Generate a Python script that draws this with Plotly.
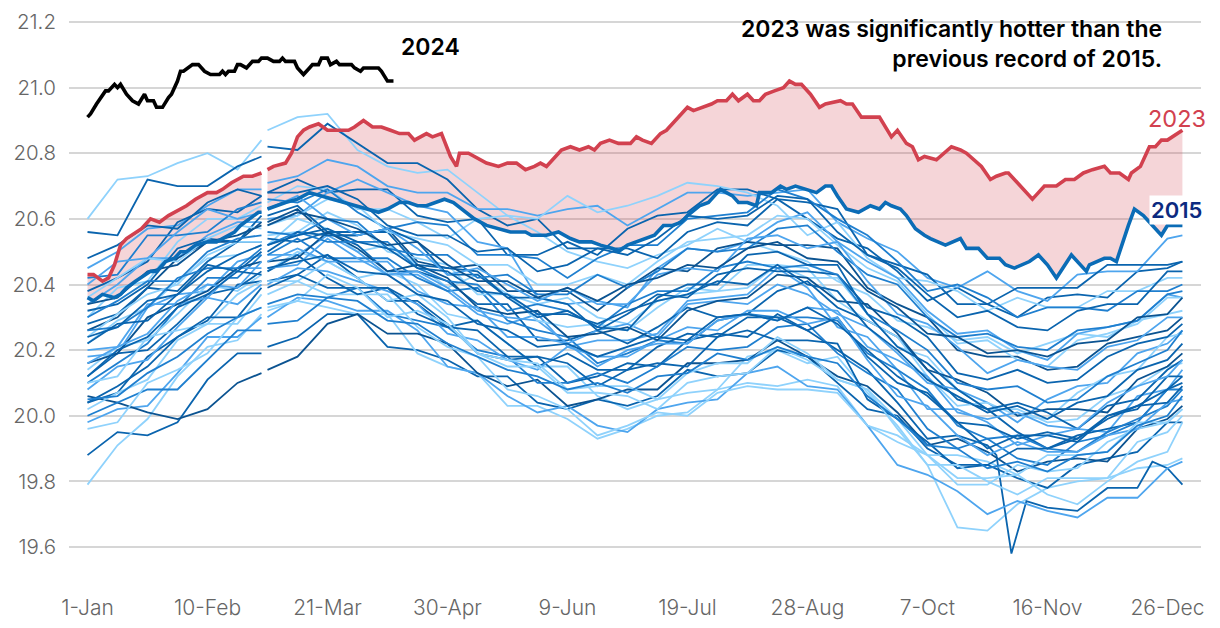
import plotly.graph_objects as go

# ---------------- data ----------------
GRID_DAYS = [0, 10, 20, 30, 40, 50, 58, 60, 70, 80, 90, 100, 110, 120, 130, 140, 150, 160,
             170, 180, 190, 200, 210, 220, 230, 240, 250, 260, 270, 280, 290, 300, 310,
             320, 330, 340, 350, 360, 365]
LEAP_DAY = 59  # Feb 29 position, empty for non-leap years

TICK_DAYS = [0, 40, 80, 120, 160, 200, 240, 280, 320, 360]
TICK_LABELS = ["1-Jan", "10-Feb", "21-Mar", "30-Apr", "9-Jun", "19-Jul", "28-Aug",
               "7-Oct", "16-Nov", "26-Dec"]
Y_TICKS = [19.6, 19.8, 20.0, 20.2, 20.4, 20.6, 20.8, 21.0, 21.2]

s01 = [20.60, 20.72, 20.73, 20.77, 20.80, 20.75, 20.84, 20.87, 20.91, 20.92, 20.81, 20.76, 20.74, 20.75, 20.68, 20.61, 20.56, 20.50, 20.47, 20.45, 20.49, 20.52, 20.57, 20.53, 20.50, 20.47, 20.41, 20.37, 20.29, 20.27, 20.23, 20.24, 20.19, 20.22, 20.25, 20.24, 20.29, 20.31, 20.32]
s02 = [20.56, 20.55, 20.72, 20.70, 20.70, 20.76, 20.79, 20.82, 20.81, 20.89, 20.83, 20.77, 20.77, 20.72, 20.63, 20.58, 20.60, 20.51, 20.51, 20.51, 20.48, 20.56, 20.59, 20.58, 20.66, 20.60, 20.54, 20.51, 20.44, 20.35, 20.39, 20.34, 20.30, 20.36, 20.37, 20.36, 20.44, 20.45, 20.47]
s03 = [20.45, 20.50, 20.57, 20.58, 20.64, 20.69, 20.69, 20.71, 20.73, 20.78, 20.76, 20.70, 20.68, 20.68, 20.63, 20.63, 20.61, 20.63, 20.64, 20.58, 20.63, 20.68, 20.68, 20.67, 20.68, 20.69, 20.59, 20.54, 20.50, 20.42, 20.39, 20.44, 20.38, 20.35, 20.43, 20.44, 20.44, 20.54, 20.55]
s04 = [20.38, 20.42, 20.47, 20.59, 20.63, 20.62, 20.67, 20.68, 20.72, 20.68, 20.69, 20.69, 20.61, 20.59, 20.60, 20.49, 20.49, 20.53, 20.49, 20.57, 20.61, 20.62, 20.69, 20.69, 20.66, 20.65, 20.63, 20.49, 20.46, 20.43, 20.34, 20.34, 20.39, 20.39, 20.39, 20.46, 20.46, 20.46, 20.47]
s05 = [20.30, 20.39, 20.41, 20.53, 20.60, 20.60, 20.64, 20.65, 20.70, 20.69, 20.63, 20.63, 20.59, 20.54, 20.60, 20.61, 20.60, 20.67, 20.62, 20.64, 20.67, 20.71, 20.70, 20.68, 20.64, 20.55, 20.59, 20.48, 20.42, 20.41, 20.38, 20.32, 20.36, 20.33, 20.33, 20.38, 20.38, 20.42, 20.42]
s06 = [20.42, 20.43, 20.55, 20.55, 20.56, 20.63, 20.65, 20.66, 20.65, 20.69, 20.62, 20.57, 20.59, 20.58, 20.49, 20.49, 20.48, 20.42, 20.48, 20.52, 20.52, 20.60, 20.61, 20.62, 20.69, 20.66, 20.60, 20.55, 20.47, 20.38, 20.40, 20.36, 20.30, 20.33, 20.33, 20.32, 20.38, 20.38, 20.40]
s07 = [20.34, 20.40, 20.48, 20.48, 20.55, 20.59, 20.59, 20.60, 20.61, 20.68, 20.72, 20.68, 20.64, 20.62, 20.53, 20.51, 20.36, 20.34, 20.35, 20.33, 20.45, 20.51, 20.50, 20.53, 20.59, 20.62, 20.53, 20.47, 20.42, 20.32, 20.25, 20.26, 20.20, 20.17, 20.25, 20.27, 20.29, 20.37, 20.36]
s08 = [20.26, 20.30, 20.39, 20.48, 20.53, 20.53, 20.59, 20.59, 20.63, 20.55, 20.55, 20.57, 20.47, 20.45, 20.46, 20.38, 20.38, 20.38, 20.32, 20.39, 20.45, 20.44, 20.51, 20.53, 20.52, 20.52, 20.51, 20.39, 20.34, 20.30, 20.20, 20.18, 20.18, 20.14, 20.15, 20.22, 20.24, 20.26, 20.30]
s09 = [20.22, 20.29, 20.33, 20.41, 20.48, 20.49, 20.52, 20.52, 20.60, 20.57, 20.50, 20.52, 20.46, 20.39, 20.43, 20.37, 20.34, 20.36, 20.30, 20.28, 20.35, 20.37, 20.38, 20.46, 20.46, 20.42, 20.42, 20.31, 20.21, 20.18, 20.08, 20.02, 20.02, 19.98, 19.99, 20.06, 20.09, 20.15, 20.16]
s10 = [20.18, 20.19, 20.33, 20.37, 20.38, 20.47, 20.49, 20.49, 20.49, 20.55, 20.50, 20.43, 20.43, 20.38, 20.31, 20.28, 20.31, 20.21, 20.23, 20.23, 20.25, 20.35, 20.36, 20.37, 20.45, 20.39, 20.27, 20.24, 20.14, 20.02, 20.02, 19.98, 19.91, 19.94, 19.96, 19.95, 20.06, 20.08, 20.14]
s11 = [20.28, 20.31, 20.39, 20.38, 20.47, 20.53, 20.53, 20.54, 20.53, 20.56, 20.52, 20.44, 20.44, 20.41, 20.34, 20.34, 20.23, 20.23, 20.26, 20.22, 20.27, 20.33, 20.30, 20.31, 20.38, 20.41, 20.33, 20.29, 20.24, 20.14, 20.05, 20.02, 19.95, 19.90, 19.94, 19.96, 19.98, 20.08, 20.10]
s12 = [20.10, 20.16, 20.22, 20.33, 20.42, 20.42, 20.49, 20.49, 20.54, 20.48, 20.48, 20.48, 20.42, 20.38, 20.39, 20.29, 20.26, 20.24, 20.16, 20.19, 20.23, 20.22, 20.29, 20.31, 20.30, 20.30, 20.29, 20.19, 20.14, 20.08, 19.97, 19.93, 19.94, 19.90, 19.89, 19.95, 19.99, 20.03, 20.08]
s13 = [20.14, 20.21, 20.23, 20.31, 20.40, 20.38, 20.43, 20.44, 20.50, 20.47, 20.42, 20.44, 20.40, 20.31, 20.29, 20.22, 20.15, 20.15, 20.06, 20.02, 20.05, 20.07, 20.08, 20.18, 20.20, 20.16, 20.18, 20.07, 19.97, 19.85, 19.66, 19.65, 19.73, 19.78, 19.80, 19.81, 19.84, 19.85, 19.87]
s14_days = [0, 10, 20, 30, 40, 50, 58, 60, 70, 80, 90, 100, 110, 120, 130, 140, 150, 160, 170,
            180, 190, 200, 210, 220, 230, 240, 250, 260, 270, 280, 290, 300, 303, 308, 313,
            320, 330, 340, 350, 355, 360, 365]
s14 = [20.04, 20.07, 20.18, 20.24, 20.29, 20.40, 20.41, 20.41, 20.43, 20.49, 20.42, 20.35, 20.35, 20.28, 20.19, 20.17, 20.18, 20.10, 20.12, 20.16, 20.15, 20.23, 20.25, 20.24, 20.31, 20.26, 20.20, 20.14, 20.04, 19.93, 19.94, 19.91, 19.88, 19.58, 19.74, 19.72, 19.71, 19.78, 19.78, 19.86, 19.84, 19.79]
s15 = [19.88, 19.95, 19.94, 19.98, 20.11, 20.19, 20.19, 20.21, 20.24, 20.31, 20.31, 20.21, 20.20, 20.17, 20.12, 20.12, 20.04, 20.02, 20.05, 20.03, 20.06, 20.14, 20.12, 20.13, 20.20, 20.18, 20.10, 20.02, 20.00, 19.90, 19.85, 19.85, 19.81, 19.78, 19.85, 19.87, 19.89, 19.98, 19.98]
s16 = [19.79, 19.91, 19.99, 20.12, 20.21, 20.23, 20.31, 20.32, 20.35, 20.33, 20.31, 20.31, 20.19, 20.15, 20.13, 20.03, 20.03, 19.99, 19.93, 19.96, 20.00, 20.01, 20.08, 20.10, 20.09, 20.11, 20.09, 19.97, 19.92, 19.88, 19.81, 19.81, 19.82, 19.76, 19.73, 19.80, 19.86, 19.89, 19.98]
s17 = [19.98, 20.02, 20.03, 20.13, 20.24, 20.24, 20.30, 20.30, 20.36, 20.35, 20.32, 20.32, 20.26, 20.15, 20.13, 20.06, 20.01, 20.03, 19.97, 19.95, 20.02, 20.04, 20.05, 20.13, 20.15, 20.09, 20.08, 19.97, 19.85, 19.82, 19.77, 19.70, 19.74, 19.71, 19.69, 19.75, 19.75, 19.84, 19.86]
s18 = [20.06, 20.04, 20.01, 19.99, 20.02, 20.10, 20.13, 20.14, 20.18, 20.28, 20.31, 20.25, 20.25, 20.22, 20.13, 20.09, 20.11, 20.03, 20.05, 20.08, 20.08, 20.16, 20.16, 20.17, 20.23, 20.18, 20.12, 20.09, 20.01, 19.91, 19.93, 19.89, 19.83, 19.86, 19.87, 19.86, 19.96, 19.99, 20.03]
s19 = [20.00, 20.04, 20.08, 20.08, 20.17, 20.26, 20.26, 20.28, 20.29, 20.36, 20.39, 20.31, 20.29, 20.27, 20.20, 20.18, 20.10, 20.10, 20.13, 20.10, 20.15, 20.21, 20.20, 20.21, 20.27, 20.28, 20.19, 20.13, 20.08, 19.96, 19.90, 19.93, 19.87, 19.85, 19.92, 19.94, 19.98, 20.08, 20.08]
s20 = [20.02, 20.07, 20.11, 20.23, 20.28, 20.28, 20.37, 20.37, 20.41, 20.37, 20.37, 20.37, 20.27, 20.21, 20.18, 20.08, 20.06, 20.02, 19.94, 19.97, 20.01, 20.00, 20.07, 20.09, 20.08, 20.08, 20.07, 19.97, 19.94, 19.88, 19.79, 19.79, 19.85, 19.83, 19.84, 19.92, 19.96, 19.98, 20.02]
s21 = [20.12, 20.19, 20.20, 20.28, 20.37, 20.39, 20.44, 20.44, 20.49, 20.42, 20.37, 20.39, 20.34, 20.27, 20.29, 20.22, 20.15, 20.19, 20.14, 20.14, 20.21, 20.25, 20.24, 20.30, 20.30, 20.26, 20.30, 20.18, 20.10, 20.07, 19.98, 19.90, 19.94, 19.94, 19.92, 20.00, 20.02, 20.12, 20.12]
s22 = [20.20, 20.21, 20.34, 20.34, 20.36, 20.45, 20.45, 20.45, 20.46, 20.54, 20.48, 20.43, 20.44, 20.39, 20.32, 20.30, 20.29, 20.22, 20.26, 20.28, 20.24, 20.34, 20.35, 20.34, 20.40, 20.37, 20.31, 20.27, 20.19, 20.10, 20.08, 20.04, 19.98, 20.05, 20.09, 20.10, 20.19, 20.22, 20.26]
s23 = [20.24, 20.31, 20.37, 20.40, 20.49, 20.53, 20.53, 20.55, 20.56, 20.62, 20.58, 20.50, 20.48, 20.46, 20.37, 20.37, 20.29, 20.27, 20.28, 20.26, 20.33, 20.39, 20.38, 20.39, 20.46, 20.45, 20.35, 20.29, 20.24, 20.12, 20.03, 20.04, 20.00, 19.99, 20.07, 20.12, 20.14, 20.24, 20.25]
s24 = [20.32, 20.34, 20.40, 20.51, 20.54, 20.53, 20.61, 20.61, 20.64, 20.56, 20.56, 20.56, 20.46, 20.45, 20.44, 20.36, 20.36, 20.34, 20.26, 20.31, 20.37, 20.36, 20.43, 20.45, 20.44, 20.44, 20.43, 20.33, 20.30, 20.24, 20.13, 20.11, 20.14, 20.10, 20.11, 20.18, 20.22, 20.24, 20.28]
s25 = [20.08, 20.15, 20.17, 20.27, 20.36, 20.34, 20.40, 20.40, 20.45, 20.44, 20.41, 20.38, 20.34, 20.25, 20.23, 20.17, 20.14, 20.21, 20.18, 20.18, 20.23, 20.27, 20.26, 20.32, 20.32, 20.28, 20.30, 20.17, 20.06, 20.03, 19.94, 19.88, 19.92, 19.89, 19.89, 19.94, 19.96, 20.04, 20.05]
s26 = [20.16, 20.19, 20.30, 20.34, 20.38, 20.45, 20.47, 20.47, 20.48, 20.56, 20.51, 20.44, 20.46, 20.42, 20.33, 20.31, 20.32, 20.24, 20.25, 20.27, 20.23, 20.32, 20.35, 20.36, 20.43, 20.42, 20.35, 20.34, 20.25, 20.14, 20.11, 20.07, 20.00, 20.02, 20.02, 20.01, 20.11, 20.15, 20.19]
s27 = [20.36, 20.42, 20.48, 20.47, 20.54, 20.58, 20.57, 20.58, 20.61, 20.66, 20.64, 20.56, 20.54, 20.52, 20.46, 20.46, 20.40, 20.40, 20.43, 20.40, 20.47, 20.53, 20.54, 20.55, 20.61, 20.60, 20.52, 20.45, 20.41, 20.31, 20.22, 20.23, 20.17, 20.15, 20.23, 20.25, 20.28, 20.36, 20.36]
s28 = [20.26, 20.27, 20.33, 20.42, 20.45, 20.45, 20.51, 20.52, 20.56, 20.53, 20.53, 20.53, 20.45, 20.41, 20.40, 20.32, 20.34, 20.32, 20.27, 20.34, 20.38, 20.38, 20.45, 20.47, 20.45, 20.46, 20.43, 20.31, 20.26, 20.20, 20.10, 20.08, 20.09, 20.04, 20.05, 20.12, 20.16, 20.20, 20.26]
s29 = [20.22, 20.28, 20.29, 20.37, 20.46, 20.44, 20.50, 20.50, 20.56, 20.55, 20.55, 20.57, 20.53, 20.43, 20.43, 20.36, 20.30, 20.32, 20.27, 20.26, 20.36, 20.40, 20.40, 20.49, 20.50, 20.46, 20.46, 20.31, 20.21, 20.16, 20.08, 20.02, 20.04, 20.01, 19.96, 20.03, 20.05, 20.14, 20.17]
s30 = [20.10, 20.12, 20.24, 20.26, 20.28, 20.37, 20.41, 20.41, 20.41, 20.47, 20.42, 20.35, 20.37, 20.30, 20.19, 20.15, 20.15, 20.07, 20.07, 20.06, 20.02, 20.10, 20.12, 20.13, 20.21, 20.17, 20.11, 20.08, 19.99, 19.88, 19.88, 19.86, 19.82, 19.88, 19.88, 19.89, 19.98, 19.98, 20.02]
s31 = [20.30, 20.35, 20.41, 20.41, 20.50, 20.54, 20.55, 20.56, 20.55, 20.60, 20.59, 20.51, 20.49, 20.49, 20.42, 20.43, 20.37, 20.37, 20.43, 20.39, 20.44, 20.51, 20.50, 20.51, 20.57, 20.58, 20.50, 20.43, 20.40, 20.30, 20.24, 20.25, 20.21, 20.20, 20.26, 20.27, 20.29, 20.37, 20.38]
s32 = [20.04, 20.09, 20.15, 20.24, 20.30, 20.30, 20.39, 20.39, 20.43, 20.39, 20.39, 20.39, 20.31, 20.27, 20.26, 20.18, 20.18, 20.16, 20.09, 20.14, 20.16, 20.15, 20.24, 20.26, 20.23, 20.23, 20.22, 20.05, 19.99, 19.92, 19.84, 19.85, 19.90, 19.90, 19.93, 20.00, 20.03, 20.04, 20.09]
s33 = [20.40, 20.47, 20.48, 20.56, 20.63, 20.60, 20.62, 20.63, 20.67, 20.60, 20.55, 20.57, 20.51, 20.43, 20.45, 20.40, 20.35, 20.39, 20.34, 20.34, 20.43, 20.45, 20.44, 20.54, 20.55, 20.51, 20.53, 20.41, 20.31, 20.28, 20.21, 20.13, 20.17, 20.15, 20.14, 20.21, 20.23, 20.30, 20.30]
s34 = [19.96, 19.98, 20.10, 20.14, 20.19, 20.30, 20.33, 20.33, 20.35, 20.43, 20.39, 20.30, 20.32, 20.28, 20.19, 20.17, 20.16, 20.08, 20.09, 20.09, 20.05, 20.13, 20.16, 20.16, 20.24, 20.19, 20.11, 20.08, 19.96, 19.85, 19.85, 19.80, 19.76, 19.81, 19.81, 19.81, 19.92, 19.95, 20.00]
s35 = [20.48, 20.52, 20.58, 20.57, 20.65, 20.69, 20.67, 20.68, 20.68, 20.70, 20.66, 20.58, 20.55, 20.55, 20.50, 20.51, 20.44, 20.46, 20.51, 20.49, 20.54, 20.61, 20.60, 20.61, 20.67, 20.66, 20.56, 20.49, 20.45, 20.37, 20.30, 20.32, 20.27, 20.26, 20.32, 20.34, 20.34, 20.44, 20.44]
s36 = [20.16, 20.21, 20.25, 20.35, 20.40, 20.39, 20.47, 20.47, 20.51, 20.47, 20.47, 20.47, 20.38, 20.34, 20.33, 20.24, 20.24, 20.22, 20.15, 20.20, 20.22, 20.22, 20.29, 20.31, 20.29, 20.33, 20.32, 20.21, 20.17, 20.12, 20.01, 19.99, 20.01, 19.97, 19.96, 20.04, 20.09, 20.12, 20.17]
s37 = [20.12, 20.20, 20.24, 20.33, 20.37, 20.44, 20.43, 20.45, 20.47, 20.49, 20.44, 20.43, 20.37, 20.35, 20.28, 20.26, 20.21, 20.22, 20.18, 20.21, 20.24, 20.23, 20.30, 20.31, 20.29, 20.33, 20.28, 20.20, 20.12, 20.06, 19.98, 19.97, 19.93, 19.95, 19.93, 19.99, 20.03, 20.08, 20.12]
s38 = [20.34, 20.36, 20.44, 20.46, 20.53, 20.55, 20.58, 20.58, 20.62, 20.60, 20.57, 20.52, 20.53, 20.46, 20.41, 20.41, 20.36, 20.39, 20.35, 20.40, 20.42, 20.46, 20.45, 20.51, 20.53, 20.48, 20.47, 20.38, 20.33, 20.25, 20.24, 20.19, 20.20, 20.18, 20.22, 20.23, 20.30, 20.31, 20.36]
s39 = [20.05, 20.06, 20.13, 20.18, 20.25, 20.30, 20.33, 20.34, 20.37, 20.36, 20.35, 20.29, 20.28, 20.22, 20.18, 20.14, 20.12, 20.08, 20.10, 20.07, 20.12, 20.13, 20.19, 20.17, 20.21, 20.18, 20.16, 20.06, 19.99, 19.91, 19.90, 19.84, 19.86, 19.83, 19.88, 19.89, 19.97, 20.00, 20.06]
s40 = [20.24, 20.27, 20.35, 20.37, 20.44, 20.49, 20.52, 20.52, 20.55, 20.57, 20.53, 20.51, 20.45, 20.44, 20.38, 20.37, 20.31, 20.31, 20.28, 20.32, 20.35, 20.37, 20.41, 20.40, 20.46, 20.40, 20.38, 20.27, 20.20, 20.11, 20.06, 20.01, 20.03, 19.99, 20.04, 20.06, 20.14, 20.17, 20.22]

y2015_days = [0, 2, 5, 9, 11, 13, 16, 19, 21, 23, 24, 26, 29, 31, 33, 36, 40, 43, 45, 49, 51, 54, 57, 58,
              60, 63, 66, 70, 74, 78, 82, 86, 90, 94, 97, 100, 104, 107, 110, 113, 119, 122, 126, 129,
              133, 137, 141, 146, 148, 153, 157, 161, 164, 168, 171, 175, 177, 180, 183, 186, 189, 192,
              195, 198, 200, 204, 207, 209, 211, 215, 217, 220, 223, 224, 228, 231, 233, 236, 240, 243,
              246, 248, 250, 253, 257, 261, 264, 266, 268, 271, 273, 276, 279, 281, 286, 291, 293, 297,
              300, 304, 306, 309, 314, 317, 320, 323, 328, 331, 333, 334, 339, 341, 343, 347, 349, 352,
              355, 358, 360, 365]
y2015 = [20.36, 20.35, 20.37, 20.36, 20.37, 20.39, 20.41, 20.43, 20.44, 20.44, 20.45, 20.47, 20.48, 20.50,
         20.50, 20.52, 20.53, 20.53, 20.54, 20.56, 20.58, 20.60, 20.62, 20.62,
         20.63, 20.64, 20.65, 20.66, 20.68, 20.67, 20.66, 20.65, 20.64, 20.63, 20.62, 20.63, 20.65, 20.65,
         20.64, 20.64, 20.66, 20.65, 20.62, 20.60,
         20.58, 20.57, 20.56, 20.56, 20.55, 20.55, 20.56, 20.54, 20.53, 20.53, 20.52, 20.51, 20.50, 20.52,
         20.53, 20.54, 20.55, 20.58,
         20.58, 20.59, 20.61, 20.64, 20.65, 20.67, 20.69, 20.67, 20.65, 20.65, 20.64, 20.68, 20.68, 20.70,
         20.69, 20.70, 20.69, 20.68,
         20.70, 20.70, 20.67, 20.63, 20.62, 20.64, 20.63, 20.65, 20.64, 20.63, 20.61, 20.57, 20.55, 20.54,
         20.52, 20.54, 20.51, 20.51,
         20.48, 20.48, 20.46, 20.45, 20.47, 20.49, 20.46, 20.42, 20.49, 20.46, 20.44, 20.46, 20.48, 20.48,
         20.47, 20.58, 20.63, 20.61,
         20.58, 20.55, 20.58, 20.58]

y2023_days = [0, 2, 5, 7, 9, 11, 13, 16, 18, 21, 24, 27, 31, 33, 36, 40, 43, 45, 48, 52, 55, 58,
              60, 62, 66, 68, 70, 72, 74, 77, 80, 87, 89, 92, 95, 98, 101, 104, 107, 109, 113, 115,
              118, 121, 123, 124, 127, 129, 133, 137, 140, 143, 146, 149, 151, 153, 155, 158, 161,
              164, 167, 169, 171, 174, 177, 181, 183, 185, 188, 191, 193, 195, 198, 200, 202, 205,
              208, 210, 213, 215, 217, 220, 222, 224, 226, 229, 232, 234, 236, 238, 241, 244, 246,
              251, 253, 255, 258, 264, 268, 270, 273, 275, 277, 279, 283, 288, 291, 293, 298, 301,
              303, 306, 307, 310, 313, 315, 317, 319, 323, 326, 329, 332, 335, 339, 341, 344, 347,
              348, 351, 354, 356, 358, 360, 363, 365]
y2023 = [20.43, 20.43, 20.41, 20.42, 20.46, 20.52, 20.54, 20.56, 20.57, 20.60, 20.59, 20.61, 20.63, 20.64,
         20.66, 20.68, 20.68, 20.69, 20.71, 20.73, 20.73, 20.74,
         20.75, 20.76, 20.77, 20.80, 20.85, 20.87, 20.88, 20.89, 20.87, 20.87, 20.88, 20.90, 20.88, 20.88,
         20.87, 20.86, 20.86, 20.84, 20.86, 20.85,
         20.86, 20.79, 20.76, 20.80, 20.80, 20.79, 20.77, 20.76, 20.77, 20.77, 20.75, 20.76, 20.77, 20.76,
         20.78, 20.81, 20.82,
         20.81, 20.82, 20.81, 20.83, 20.84, 20.83, 20.83, 20.85, 20.84, 20.83, 20.86, 20.87, 20.89, 20.92,
         20.94, 20.93, 20.94,
         20.95, 20.96, 20.96, 20.98, 20.96, 20.98, 20.96, 20.96, 20.98, 20.99, 21.00, 21.02, 21.01, 21.01,
         20.98, 20.94, 20.95,
         20.96, 20.95, 20.95, 20.91, 20.91, 20.85, 20.87, 20.83, 20.82, 20.78, 20.79, 20.78, 20.82, 20.81,
         20.80, 20.76, 20.72,
         20.73, 20.74, 20.74, 20.71, 20.68, 20.66, 20.68, 20.70, 20.70, 20.72, 20.72, 20.74, 20.75, 20.76,
         20.74, 20.74, 20.72,
         20.74, 20.76, 20.82, 20.82, 20.84, 20.84, 20.86, 20.87]

y2024_days = [0, 1, 3, 5, 6, 7, 9, 10, 11, 13, 15, 17, 19, 20, 22, 23, 25, 27, 28, 30, 31, 32, 35, 37, 39,
              41, 44, 45, 46, 47, 49, 50, 51, 53, 54, 55, 57, 58, 60, 62, 64, 65, 66, 69, 70, 72, 74, 75,
              77, 78, 80, 81, 83, 84, 88, 89, 91, 92, 97, 98, 100, 102]
y2024 = [20.91, 20.92, 20.95, 20.98, 20.99, 20.99, 21.01, 21.00, 21.01, 20.98, 20.96, 20.95, 20.98, 20.96,
         20.96, 20.94, 20.94, 20.97, 20.98, 21.02, 21.05, 21.05, 21.07, 21.07, 21.05, 21.04, 21.04, 21.05,
         21.04, 21.05, 21.05, 21.07, 21.07, 21.06, 21.07, 21.08, 21.08, 21.09, 21.09, 21.08, 21.08, 21.09,
         21.08, 21.08, 21.06, 21.04, 21.06, 21.07, 21.07, 21.09, 21.09, 21.07, 21.08, 21.07, 21.07, 21.06,
         21.05, 21.06, 21.06, 21.05, 21.02, 21.02]

# ---------------- styles ----------------
LIGHT, MED, BLUE, DARK, NAVY = "#8fd2fc", "#4ea5ee", "#1f7fcf", "#0a64ae", "#0b5391"
background = [
    (GRID_DAYS, s01, LIGHT), (GRID_DAYS, s02, DARK), (GRID_DAYS, s03, MED), (GRID_DAYS, s04, DARK),
    (GRID_DAYS, s05, LIGHT), (GRID_DAYS, s06, BLUE), (GRID_DAYS, s07, MED), (GRID_DAYS, s08, NAVY),
    (GRID_DAYS, s09, LIGHT), (GRID_DAYS, s10, MED), (GRID_DAYS, s11, DARK), (GRID_DAYS, s12, BLUE),
    (GRID_DAYS, s13, LIGHT), (s14_days, s14, DARK), (GRID_DAYS, s15, DARK), (GRID_DAYS, s16, LIGHT),
    (GRID_DAYS, s17, MED), (GRID_DAYS, s18, NAVY), (GRID_DAYS, s19, BLUE), (GRID_DAYS, s20, LIGHT),
    (GRID_DAYS, s21, DARK), (GRID_DAYS, s22, MED), (GRID_DAYS, s23, LIGHT), (GRID_DAYS, s24, DARK),
    (GRID_DAYS, s25, MED), (GRID_DAYS, s26, NAVY), (GRID_DAYS, s27, LIGHT), (GRID_DAYS, s28, BLUE),
    (GRID_DAYS, s29, DARK), (GRID_DAYS, s30, LIGHT), (GRID_DAYS, s31, BLUE), (GRID_DAYS, s32, DARK),
    (GRID_DAYS, s33, MED), (GRID_DAYS, s34, LIGHT), (GRID_DAYS, s35, DARK), (GRID_DAYS, s36, MED),
    (GRID_DAYS, s37, DARK), (GRID_DAYS, s38, NAVY), (GRID_DAYS, s39, BLUE), (GRID_DAYS, s40, DARK),
]
for d, v, _ in background:
    assert len(d) == len(v), (len(d), len(v))
assert len(y2015_days) == len(y2015)
assert len(y2023_days) == len(y2023)
assert len(y2024_days) == len(y2024)

RED = "#d2414f"
BLUE15 = "#0b6cb6"
NAVY_TXT = "#0c2a80"
FONT = "Inter"


def with_gap(days, vals):
    """Insert an empty point at the leap day (non-leap years have no 29 Feb)."""
    xs, ys = [], []
    for d, v in zip(days, vals):
        if d > LEAP_DAY and (not xs or xs[-1] < LEAP_DAY):
            xs.append(LEAP_DAY)
            ys.append(None)
        xs.append(d)
        ys.append(v)
    return xs, ys


def split_at_gap(days, vals):
    a = [(d, v) for d, v in zip(days, vals) if d < LEAP_DAY]
    b = [(d, v) for d, v in zip(days, vals) if d > LEAP_DAY]
    return [a, b]


fig = go.Figure()

# pink band between 2015 and 2023 (drawn first so that lines sit on top)
for seg15, seg23 in zip(split_at_gap(y2015_days, y2015), split_at_gap(y2023_days, y2023)):
    fig.add_trace(go.Scatter(x=[p[0] for p in seg15], y=[p[1] for p in seg15], mode="lines",
                             line=dict(width=0), hoverinfo="skip", showlegend=False))
    fig.add_trace(go.Scatter(x=[p[0] for p in seg23], y=[p[1] for p in seg23], mode="lines",
                             line=dict(width=0), fill="tonexty",
                             fillcolor="rgba(210,65,79,0.22)", hoverinfo="skip", showlegend=False))

for days, vals, col in background:
    xs, ys = with_gap(days, vals)
    fig.add_trace(go.Scatter(x=xs, y=ys, mode="lines", line=dict(color=col, width=1.8),
                             connectgaps=False, hoverinfo="skip", showlegend=False))

xs, ys = with_gap(y2015_days, y2015)
fig.add_trace(go.Scatter(x=xs, y=ys, mode="lines", line=dict(color=BLUE15, width=3.6),
                         connectgaps=False, showlegend=False, name="2015"))
xs, ys = with_gap(y2023_days, y2023)
fig.add_trace(go.Scatter(x=xs, y=ys, mode="lines", line=dict(color=RED, width=3.6),
                         connectgaps=False, showlegend=False, name="2023"))
fig.add_trace(go.Scatter(x=y2024_days, y=y2024, mode="lines", line=dict(color="#000000", width=3.6),
                         showlegend=False, name="2024"))

fig.add_annotation(x=104, y=21.124, xref="x", yref="y", text="2024", showarrow=False,
                   xanchor="left", yanchor="middle",
                   font=dict(family=FONT, size=23, color="#000000", weight=600))
fig.add_annotation(x=353.0, y=20.907, xref="x", yref="y", text="2023", showarrow=False,
                   xanchor="left", yanchor="middle",
                   font=dict(family=FONT, size=23.5, color=RED, weight=400))
fig.add_annotation(x=354.0, y=20.627, xref="x", yref="y", text="2015", showarrow=False,
                   xanchor="left", yanchor="middle", bgcolor="#ffffff", borderpad=1,
                   font=dict(family=FONT, size=22, color=NAVY_TXT, weight=600))
fig.add_annotation(x=358.7, y=21.133, xref="x", yref="y",
                   text="2023 was significantly hotter than the<br>previous record of 2015.",
                   showarrow=False, xanchor="right", yanchor="middle", align="right",
                   font=dict(family=FONT, size=23, color="#000000", weight=600))

fig.update_layout(
    width=1212, height=620,
    margin=dict(l=61, r=19, t=2, b=38),
    plot_bgcolor="#ffffff", paper_bgcolor="#ffffff",
    showlegend=False,
    xaxis=dict(range=[-6.17, 371.2], tickmode="array", tickvals=TICK_DAYS, ticktext=TICK_LABELS,
               showgrid=False, zeroline=False, showline=False, ticks="", ticklabelstandoff=3,
               tickfont=dict(family=FONT, size=21, color="#666666", weight=300),
               fixedrange=True),
    yaxis=dict(range=[19.4689, 21.2366], tickmode="array", tickvals=Y_TICKS, tickformat=".1f",
               showgrid=True, gridcolor="#d6d6d6", gridwidth=1.5, zeroline=False, showline=False,
               ticks="", ticklabelstandoff=12,
               tickfont=dict(family=FONT, size=20.5, color="#666666", weight=300),
               fixedrange=True),
)

fig.write_html("out.html")
